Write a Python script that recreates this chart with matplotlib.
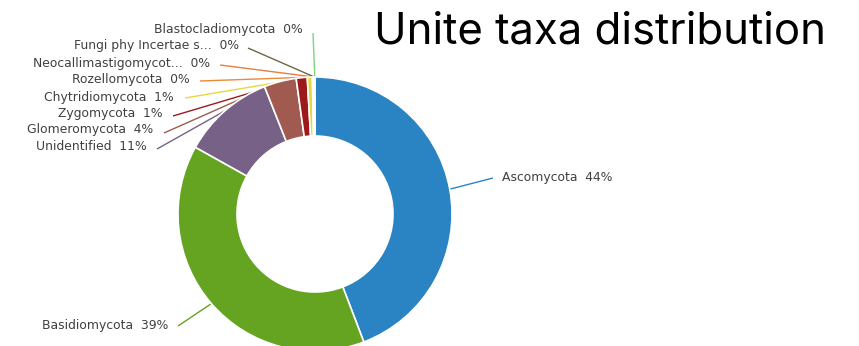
import numpy as np
import matplotlib
matplotlib.use("Agg")
import matplotlib.pyplot as plt

# Phylum shares (percent) of the UNITE assignments
phyla = ["Ascomycota", "Basidiomycota", "Unidentified", "Glomeromycota",
         "Zygomycota", "Chytridiomycota", "Rozellomycota",
         "Neocallimastigomycot...", "Fungi phy Incertae s...",
         "Blastocladiomycota"]
shares = [44.2, 38.9, 10.9, 3.8, 1.3, 0.6, 0.15, 0.05, 0.05, 0.05]
pct_labels = ["44%", "39%", "11%", "4%", "1%", "1%", "0%", "0%", "0%", "0%"]
colors = ["#2a83c2", "#64a420", "#776187", "#a05a50", "#9c1a1c",
          "#e5d83e", "#ec8a3c", "#e57e42", "#6e6645", "#7fd47f"]

W, H = 859, 346
fig = plt.figure(figsize=(W / 100, H / 100), dpi=100)
ax = fig.add_axes([0, 0, 1, 1])

cx, cy, r_out, r_in = 315, 214, 137, 78

# Donut drawn clockwise from 12 o'clock (y axis points down, so flip with counterclock)
wedges, _ = ax.pie(shares, colors=colors, startangle=-90, counterclock=True,
                   center=(cx, cy), radius=r_out, frame=True,
                   wedgeprops=dict(width=r_out - r_in, edgecolor="white",
                                   linewidth=1.2, zorder=3))
ax.set_xlim(0, W)
ax.set_ylim(H, 0)
ax.set_aspect("equal")
ax.axis("off")

# label anchor (text x, text y, alignment)
label_pos = [
    (502, 177, "left"),
    (168, 326, "right"),
    (147, 147, "right"),
    (153, 130, "right"),
    (163, 114, "right"),
    (174, 97, "right"),
    (190, 80, "right"),
    (210, 63, "right"),
    (239, 46, "right"),
    (303, 30, "right"),
]
line_start = [
    (493, 178), (178, 326), (157, 149), (164, 133), (173, 116),
    (185, 98), (200, 81), (220, 65), (248, 48), (313, 33),
]

cum = np.cumsum([0] + shares[:-1])
for i, (name, pct) in enumerate(zip(phyla, pct_labels)):
    mid = (cum[i] + shares[i] / 2) / sum(shares) * 2 * np.pi
    ex = cx + r_out * np.sin(mid)
    ey = cy - r_out * np.cos(mid)
    sx, sy = line_start[i]
    ax.plot([sx, ex], [sy, ey], color=colors[i], lw=1.0, zorder=1,
            solid_capstyle="butt")
    tx, ty, ha = label_pos[i]
    ax.text(tx, ty, f"{name}  {pct}", ha=ha, va="center", fontsize=8.9,
            family="DejaVu Sans", color="#404040", zorder=4)

fig.text(374 / W, 1 - 44 / H, "Unite taxa distribution", ha="left",
         va="baseline", fontsize=31.5, family="Inter", color="black")

fig.savefig("out.png", dpi=100)
